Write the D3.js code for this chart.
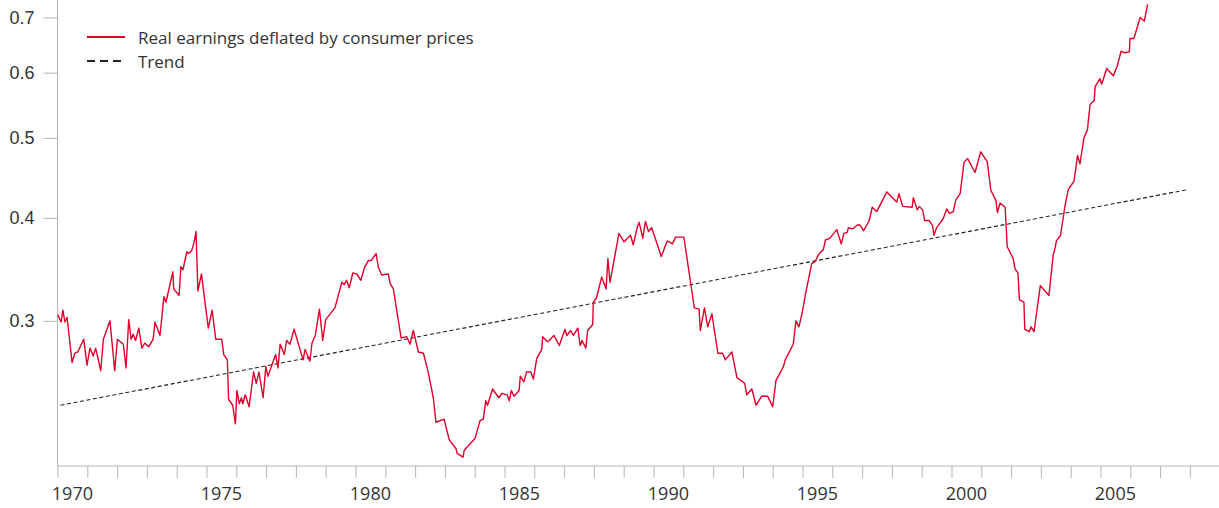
<!DOCTYPE html>
<html>
<head>
<meta charset="utf-8">
<script src="https://cdn.jsdelivr.net/npm/d3@7"></script>
<style>
  html, body { margin: 0; padding: 0; background: #fff; }
  svg { display: block; font-family: "Open Sans", "Noto Sans", sans-serif; }
</style>
</head>
<body>
<script>
// Real earnings deflated by consumer prices, log scale, with trend
var earnings = [
  [1970.01,0.305],[1970.12,0.299],[1970.18,0.309],[1970.25,0.299],[1970.32,0.303],[1970.49,0.267],
  [1970.58,0.274],[1970.68,0.275],[1970.88,0.285],[1970.99,0.265],[1971.09,0.278],[1971.20,0.272],
  [1971.28,0.278],[1971.45,0.261],[1971.54,0.285],[1971.76,0.300],[1971.92,0.261],[1972.01,0.285],
  [1972.21,0.281],[1972.30,0.263],[1972.39,0.301],[1972.47,0.285],[1972.54,0.289],[1972.62,0.284],
  [1972.73,0.294],[1972.83,0.278],[1972.93,0.282],[1973.06,0.279],[1973.21,0.285],[1973.27,0.299],
  [1973.44,0.288],[1973.57,0.321],[1973.64,0.316],[1973.87,0.344],[1973.90,0.328],[1974.08,0.322],
  [1974.14,0.349],[1974.21,0.346],[1974.34,0.364],[1974.39,0.362],[1974.50,0.365],[1974.58,0.373],
  [1974.65,0.385],[1974.71,0.326],[1974.83,0.342],[1975.06,0.294],[1975.19,0.309],[1975.31,0.285],
  [1975.51,0.285],[1975.58,0.273],[1975.70,0.269],[1975.74,0.241],[1975.88,0.237],[1975.97,0.225],
  [1976.02,0.247],[1976.10,0.238],[1976.17,0.242],[1976.22,0.238],[1976.30,0.244],[1976.43,0.236],
  [1976.58,0.260],[1976.67,0.252],[1976.76,0.260],[1976.90,0.242],[1976.99,0.264],[1977.06,0.257],
  [1977.32,0.273],[1977.40,0.263],[1977.47,0.281],[1977.61,0.273],[1977.69,0.284],[1977.80,0.281],
  [1977.94,0.293],[1978.24,0.269],[1978.31,0.277],[1978.47,0.268],[1978.54,0.282],[1978.65,0.288],
  [1978.79,0.310],[1978.90,0.284],[1979.00,0.301],[1979.31,0.311],[1979.54,0.334],[1979.62,0.332],
  [1979.70,0.336],[1979.79,0.329],[1979.91,0.343],[1980.04,0.342],[1980.18,0.336],[1980.30,0.348],
  [1980.43,0.355],[1980.52,0.355],[1980.69,0.362],[1980.77,0.348],[1980.88,0.341],[1981.10,0.342],
  [1981.16,0.333],[1981.27,0.328],[1981.53,0.286],[1981.72,0.287],[1981.83,0.281],[1981.94,0.292],
  [1982.11,0.275],[1982.28,0.274],[1982.44,0.260],[1982.61,0.242],[1982.70,0.226],[1982.97,0.228],
  [1983.15,0.215],[1983.37,0.210],[1983.42,0.207],[1983.61,0.205],[1983.65,0.209],[1984.01,0.216],
  [1984.18,0.227],[1984.29,0.228],[1984.37,0.240],[1984.43,0.237],[1984.60,0.248],[1984.81,0.242],
  [1984.91,0.245],[1985.09,0.244],[1985.16,0.240],[1985.23,0.247],[1985.32,0.243],[1985.49,0.247],
  [1985.53,0.257],[1985.65,0.253],[1985.74,0.260],[1985.88,0.260],[1985.97,0.255],[1986.08,0.270],
  [1986.25,0.277],[1986.28,0.287],[1986.44,0.283],[1986.50,0.284],[1986.66,0.288],[1986.84,0.280],
  [1987.03,0.293],[1987.09,0.288],[1987.22,0.292],[1987.31,0.288],[1987.46,0.294],[1987.54,0.280],
  [1987.60,0.284],[1987.73,0.278],[1987.79,0.292],[1987.96,0.297],[1987.98,0.316],[1988.09,0.320],
  [1988.26,0.339],[1988.41,0.328],[1988.47,0.357],[1988.54,0.334],[1988.84,0.383],[1989.01,0.374],
  [1989.23,0.381],[1989.32,0.371],[1989.46,0.390],[1989.52,0.395],[1989.64,0.378],[1989.73,0.396],
  [1989.83,0.385],[1989.94,0.389],[1990.26,0.359],[1990.46,0.375],[1990.64,0.372],[1990.74,0.379],
  [1991.02,0.379],[1991.37,0.311],[1991.53,0.310],[1991.57,0.292],[1991.71,0.311],[1991.82,0.295],
  [1991.96,0.306],[1992.16,0.274],[1992.32,0.274],[1992.41,0.269],[1992.63,0.275],[1992.80,0.256],
  [1993.06,0.252],[1993.13,0.244],[1993.30,0.248],[1993.44,0.237],[1993.63,0.243],[1993.83,0.243],
  [1994.00,0.236],[1994.11,0.254],[1994.36,0.264],[1994.42,0.269],[1994.69,0.281],[1994.78,0.300],
  [1994.88,0.295],[1994.99,0.307],[1995.12,0.326],[1995.31,0.352],[1995.42,0.354],[1995.56,0.362],
  [1995.70,0.366],[1995.77,0.376],[1995.92,0.378],[1996.15,0.387],[1996.30,0.372],[1996.39,0.383],
  [1996.50,0.384],[1996.54,0.389],[1996.69,0.388],[1996.84,0.392],[1996.93,0.392],[1997.05,0.386],
  [1997.24,0.397],[1997.34,0.412],[1997.49,0.407],[1997.83,0.430],[1998.16,0.418],[1998.24,0.428],
  [1998.36,0.413],[1998.68,0.412],[1998.72,0.423],[1998.85,0.409],[1998.92,0.413],[1999.03,0.409],
  [1999.10,0.397],[1999.25,0.397],[1999.37,0.391],[1999.41,0.381],[1999.50,0.389],[1999.72,0.399],
  [1999.84,0.410],[1999.93,0.405],[2000.06,0.407],[2000.14,0.420],[2000.29,0.428],[2000.42,0.467],
  [2000.54,0.472],[2000.79,0.454],[2000.98,0.481],[2001.20,0.468],[2001.32,0.432],[2001.49,0.420],
  [2001.54,0.406],[2001.63,0.417],[2001.80,0.412],[2001.87,0.369],[2002.07,0.357],[2002.13,0.347],
  [2002.23,0.343],[2002.28,0.318],[2002.43,0.316],[2002.46,0.293],[2002.61,0.291],[2002.67,0.295],
  [2002.77,0.291],[2002.98,0.331],[2003.27,0.322],[2003.41,0.360],[2003.48,0.368],[2003.52,0.375],
  [2003.66,0.381],[2003.81,0.414],[2003.92,0.433],[2004.11,0.443],[2004.23,0.476],[2004.31,0.465],
  [2004.45,0.501],[2004.56,0.511],[2004.65,0.549],[2004.79,0.555],[2004.82,0.577],[2004.98,0.590],
  [2005.04,0.581],[2005.21,0.607],[2005.43,0.595],[2005.56,0.611],[2005.69,0.637],[2005.80,0.634],
  [2005.97,0.636],[2005.99,0.660],[2006.12,0.660],[2006.33,0.700],[2006.47,0.693],[2006.58,0.726]
];
var trend = [[1970.1, 0.237], [2007.95, 0.433]];

var years = d3.range(1970, 2009);
var yearLabels = [1970, 1975, 1980, 1985, 1990, 1995, 2000, 2005];
var yTicks = [0.3, 0.4, 0.5, 0.6, 0.7];
var legendItems = ["Real earnings deflated by consumer prices", "Trend"];

var width = 1219, height = 508;
var red = "#e0002b", axisGrey = "#b5b5b5", textGrey = "#333";

var svg = d3.select("body").append("svg")
    .attr("width", width)
    .attr("height", height);

var x = d3.scaleLinear().domain([1970, 2009]).range([57.5, 1219.7]);
var y = d3.scaleLog().domain([0.2, 0.735]).range([466, 0]);

// y axis
var yAxis = svg.append("g")
    .attr("transform", "translate(57.5,0)")
    .call(d3.axisLeft(y).tickValues(yTicks).tickFormat(d3.format(".1f"))
        .tickSize(14).tickPadding(9).tickSizeOuter(0));
yAxis.select(".domain").attr("stroke", axisGrey).attr("d", "M0,0V466");
yAxis.selectAll(".tick line").attr("stroke", axisGrey);
yAxis.selectAll(".tick text").attr("fill", textGrey).style("font-size", "18px");

// x axis, ticks per year, labels centred in the year
var xAxis = svg.append("g")
    .attr("transform", "translate(0,466)")
    .call(d3.axisBottom(x).tickValues(years).tickFormat("").tickSize(12).tickSizeOuter(0));
xAxis.select(".domain").attr("stroke", axisGrey).attr("d", "M57.5,0H1219");
xAxis.selectAll(".tick line").attr("stroke", axisGrey);

svg.append("g").selectAll("text")
    .data(yearLabels)
    .join("text")
    .attr("x", function (d) { return x(d + 0.5); })
    .attr("y", 500)
    .attr("text-anchor", "middle")
    .attr("fill", textGrey)
    .style("font-size", "18px")
    .text(function (d) { return d; });

var line = d3.line()
    .x(function (d) { return x(d[0]); })
    .y(function (d) { return y(d[1]); });

svg.append("path")
    .datum(trend)
    .attr("fill", "none")
    .attr("stroke", "#222")
    .attr("stroke-width", 1.1)
    .attr("stroke-dasharray", "4,2.6")
    .attr("d", line);

svg.append("path")
    .datum(earnings)
    .attr("fill", "none")
    .attr("stroke", red)
    .attr("stroke-width", 1.4)
    .attr("stroke-linejoin", "round")
    .attr("d", line);

// legend
var legend = svg.append("g");
legendItems.forEach(function (label, i) {
    var ly = 37 + i * 24;
    legend.append("line")
        .attr("x1", 87).attr("x2", 125)
        .attr("y1", ly).attr("y2", ly)
        .attr("stroke", i === 0 ? red : "#222")
        .attr("stroke-width", 2)
        .attr("stroke-dasharray", i === 0 ? null : "8,5");
    legend.append("text")
        .attr("x", 138).attr("y", ly + 7)
        .attr("fill", textGrey)
        .style("font-size", "17px")
        .text(label);
});
</script>
</body>
</html>
